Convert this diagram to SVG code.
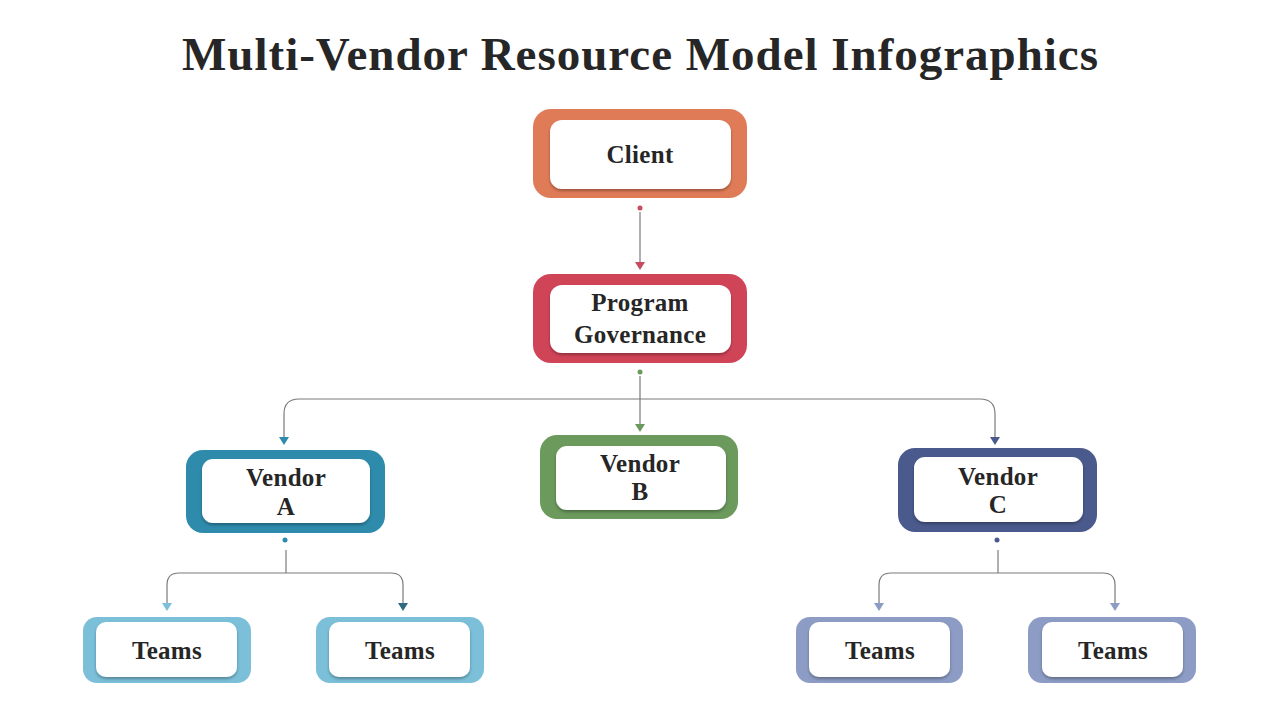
<svg xmlns="http://www.w3.org/2000/svg" width="1280" height="720" viewBox="0 0 1280 720">
<defs>
<style>
.t{font-family:"Liberation Serif","DejaVu Serif",serif;font-weight:bold;fill:#262626;text-anchor:middle}
.lbl{font-size:25px;letter-spacing:0.3px}
.inner{fill:#ffffff}
.ln{fill:none;stroke:#7a7a7a;stroke-width:1.2}
</style>
<filter id="sh" x="-10%" y="-10%" width="120%" height="130%">
<feDropShadow dx="0" dy="2" stdDeviation="1.5" flood-color="#000" flood-opacity="0.3"/>
</filter>
</defs>
<rect width="1280" height="720" fill="#ffffff"/>
<text class="t" x="640" y="70" font-size="47" textLength="916" lengthAdjust="spacing">Multi-Vendor Resource Model Infographics</text>

<g id="connectors">
<circle cx="640" cy="208" r="2.5" fill="#c84a60"/>
<line class="ln" x1="640" y1="212" x2="640" y2="262"/>
<path d="M635,262 L645,262 L640,270 Z" fill="#c84a60"/>

<circle cx="640" cy="372" r="2.5" fill="#6b9a5c"/>
<line class="ln" x1="640" y1="376" x2="640" y2="425"/>
<path d="M635,424 L645,424 L640,432 Z" fill="#6b9a5c"/>
<path class="ln" d="M284,438 V414 Q284,399 299,399 H980 Q995,399 995,414 V438"/>
<path d="M279,437 L289,437 L284,445 Z" fill="#2e8bab"/>
<path d="M990,437 L1000,437 L995,445 Z" fill="#4a5a8c"/>

<circle cx="285" cy="540" r="2.5" fill="#2e8bab"/>
<line class="ln" x1="286" y1="550" x2="286" y2="573"/>
<path class="ln" d="M167,603 V585 Q167,573 179,573 H391 Q403,573 403,585 V603"/>
<path d="M162,603 L172,603 L167,611 Z" fill="#7bbfd8"/>
<path d="M398,603 L408,603 L403,611 Z" fill="#2e6a80"/>

<circle cx="997" cy="540" r="2.5" fill="#4a5a8c"/>
<line class="ln" x1="998" y1="550" x2="998" y2="573"/>
<path class="ln" d="M879,603 V585 Q879,573 891,573 H1103 Q1115,573 1115,585 V603"/>
<path d="M874,603 L884,603 L879,611 Z" fill="#8c9cc4"/>
<path d="M1110,603 L1120,603 L1115,611 Z" fill="#8c9cc4"/>
</g>

<g id="client">
<rect x="533" y="109" width="214" height="89" rx="18" fill="#e07b58"/>
<rect class="inner" x="550" y="120" width="181" height="69" rx="12" filter="url(#sh)"/>
<text class="t lbl" x="640" y="163">Client</text>
</g>

<g id="program-governance">
<rect x="533" y="274" width="214" height="89" rx="18" fill="#d04458"/>
<rect class="inner" x="550" y="285" width="181" height="68" rx="12" filter="url(#sh)"/>
<text class="t lbl" x="640" y="311">Program</text>
<text class="t lbl" x="640" y="343">Governance</text>
</g>

<g id="vendor-a">
<rect x="186" y="450" width="199" height="83" rx="17" fill="#2e8bab"/>
<rect class="inner" x="202" y="459" width="168" height="64" rx="11" filter="url(#sh)"/>
<text class="t lbl" x="286" y="486">Vendor</text>
<text class="t lbl" x="286" y="515">A</text>
</g>

<g id="vendor-b">
<rect x="540" y="435" width="198" height="84" rx="17" fill="#6b9a5c"/>
<rect class="inner" x="556" y="446" width="170" height="64" rx="11" filter="url(#sh)"/>
<text class="t lbl" x="640" y="472">Vendor</text>
<text class="t lbl" x="640" y="500">B</text>
</g>

<g id="vendor-c">
<rect x="898" y="448" width="199" height="84" rx="17" fill="#4a5a8c"/>
<rect class="inner" x="914" y="457" width="169" height="65" rx="11" filter="url(#sh)"/>
<text class="t lbl" x="998" y="485">Vendor</text>
<text class="t lbl" x="998" y="513">C</text>
</g>

<g id="teams-a1">
<rect x="83" y="617" width="168" height="66" rx="14" fill="#7bbfd9"/>
<rect class="inner" x="96" y="622" width="141" height="55" rx="10" filter="url(#sh)"/>
<text class="t lbl" x="167" y="659">Teams</text>
</g>

<g id="teams-a2">
<rect x="316" y="617" width="168" height="66" rx="14" fill="#7bbfd9"/>
<rect class="inner" x="329" y="622" width="141" height="55" rx="10" filter="url(#sh)"/>
<text class="t lbl" x="400" y="659">Teams</text>
</g>

<g id="teams-c1">
<rect x="796" y="617" width="167" height="66" rx="14" fill="#8c9cc4"/>
<rect class="inner" x="809" y="622" width="141" height="55" rx="10" filter="url(#sh)"/>
<text class="t lbl" x="880" y="659">Teams</text>
</g>

<g id="teams-c2">
<rect x="1028" y="617" width="168" height="66" rx="14" fill="#8c9cc4"/>
<rect class="inner" x="1042" y="622" width="141" height="55" rx="10" filter="url(#sh)"/>
<text class="t lbl" x="1113" y="659">Teams</text>
</g>
</svg>
